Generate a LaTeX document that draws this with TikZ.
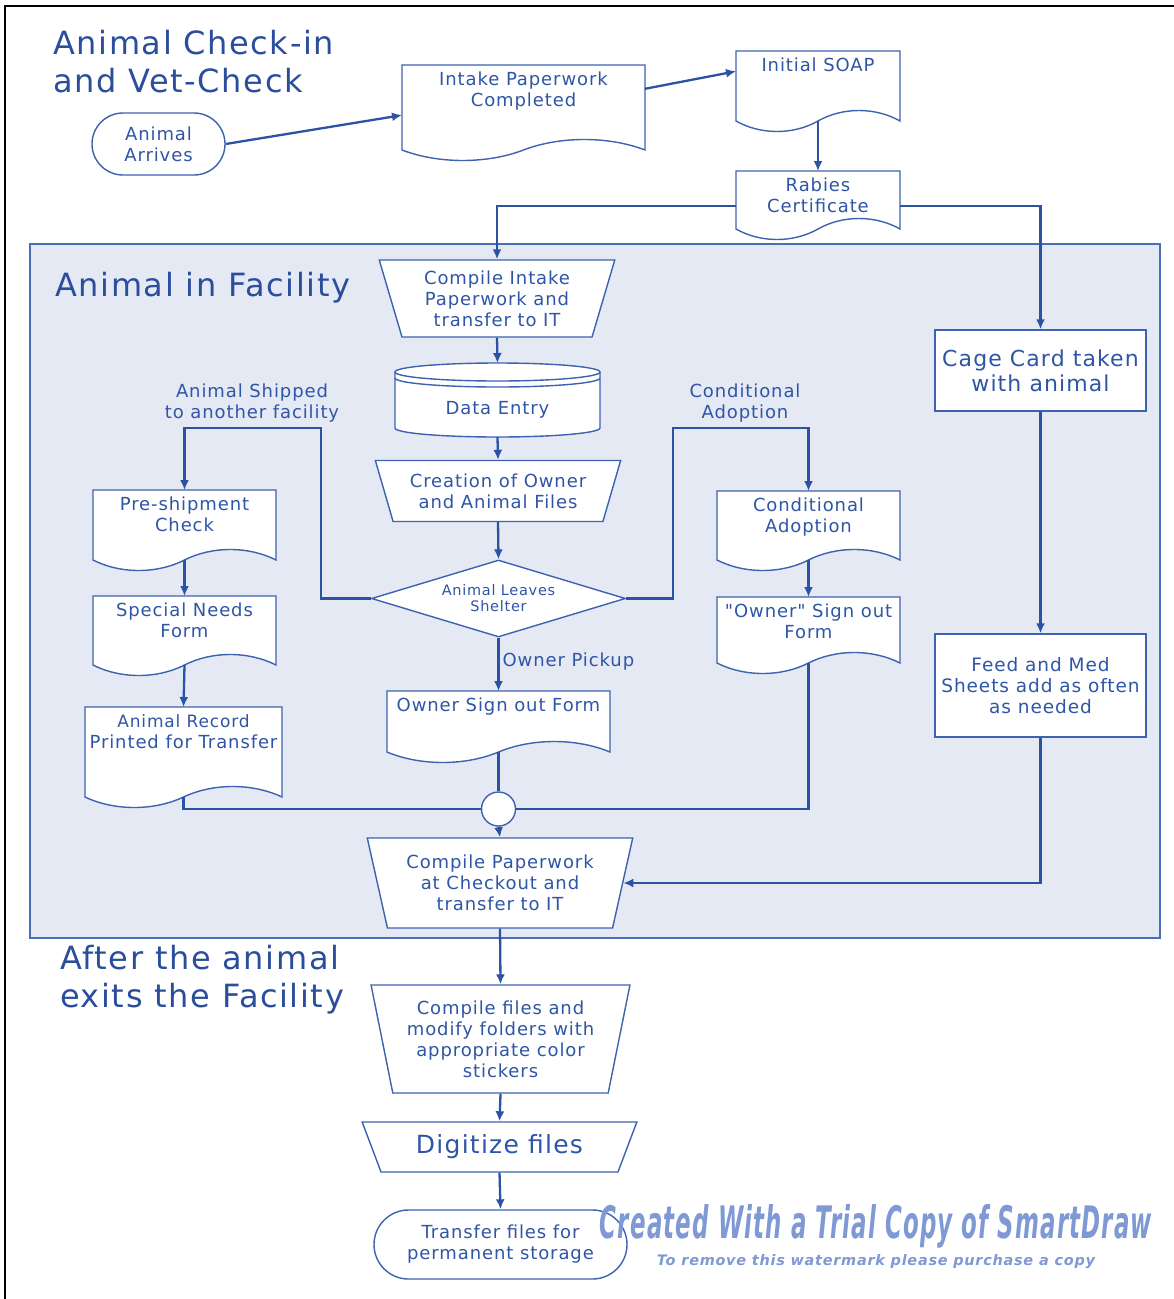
\documentclass[tikz,border=0pt]{standalone}
\usepackage{fontspec}
\setmainfont{DejaVu Sans}[Ligatures=TeXOff, LetterSpace=5]
\usetikzlibrary{arrows.meta, calc, positioning, shapes.geometric, shapes.misc}

\definecolor{lineblue}{HTML}{2B52A3}
\definecolor{boxblue}{HTML}{3D62B0}
\definecolor{txtblue}{HTML}{2F56A6}
\definecolor{titleblue}{HTML}{2A4E9C}
\definecolor{facfill}{HTML}{E4E9F4}
\definecolor{facdraw}{HTML}{4A6DB5}
\definecolor{wmblue}{HTML}{7E99D4}

\tikzset{
  flowline/.style={draw=lineblue, line width=2.3pt},
  flowarrow/.style={flowline, -{Latex[length=10pt,width=9pt]}},
  boxline/.style={draw=boxblue, line width=1.4pt, fill=white},
  boxtext/.style={text=txtblue, font=\fontsize{18}{21}\selectfont, align=center, inner sep=3pt},
  procbox/.style={boxline, boxtext, rectangle},
  funnel/.style={boxline, boxtext, trapezium, shape border rotate=180,
    trapezium stretches=true, inner sep=0pt},
  termbox/.style={boxline, boxtext, rounded rectangle},
  titletext/.style={text=titleblue, font=\fontsize{32}{38}\selectfont, align=left, inner sep=0pt},
  wmnode/.style={text=wmblue, inner sep=0pt}
}

% document symbol: name, left, top, right, bottom (image px), text
\newcommand{\docshape}[6]{%
  \draw[boxline] (#2,-#3) -- (#4,-#3) -- (#4,-#5)
    .. controls ({#4-0.15*(#4-#2)},{-#5+14}) and ({#4-0.35*(#4-#2)},{-#5+14}) .. ({(#2+#4)/2},-#5)
    .. controls ({#2+0.35*(#4-#2)},{-#5-14}) and ({#2+0.15*(#4-#2)},{-#5-14}) .. (#2,-#5) -- cycle;
  \node[boxtext, anchor=north] (#1) at ({(#2+#4)/2},{-#3-4}) {#6};
  \coordinate (#1-n) at ({(#2+#4)/2},-#3);
  \coordinate (#1-s) at ({(#2+#4)/2},-#5);
  \coordinate (#1-nw) at (#2,-#3);
  \coordinate (#1-sw) at (#2,-#5);
  \coordinate (#1-ne) at (#4,-#3);
  \coordinate (#1-se) at (#4,-#5);
}

\newcommand{\wmbig}{\resizebox{552pt}{34pt}{\bfseries\itshape Created With a Trial Copy of SmartDraw}}
\newcommand{\wmsmall}{\resizebox{438pt}{11pt}{\bfseries\itshape To remove this watermark please purchase a copy}}

\begin{document}
\begin{tikzpicture}[x=1pt, y=1pt]
  \useasboundingbox (0,0) rectangle (1174,-1299);

  % --- Frame ---
  \draw[line width=2.5pt] (5,-1299) -- (5,-6) -- (1174,-6);

  % --- Facility area ---
  \draw[fill=facfill, draw=facdraw, line width=1.4pt] (30,-244) rectangle (1160,-938);

  % --- Section titles ---
  \node[titletext, anchor=north west] (titlein) at (53,-30) {Animal Check-in\\and Vet-Check};
  \node[titletext, anchor=base west] (titlefac) at (55,-296) {Animal in Facility};
  \node[titletext, anchor=north west] (titleout) at (60,-945) {After the animal\\exits the Facility};

  % --- Check-in ---
  \node[termbox, minimum width=139pt, minimum height=62pt] (arrives) at (158.5,-144) {Animal\\Arrives};
  \docshape{intake}{402}{65}{645}{150}{Intake Paperwork\\Completed}
  \docshape{soap}{736}{51}{900}{121}{Initial SOAP}
  \docshape{rabies}{736}{171}{900}{229}{Rabies\\Certificate}

  % --- Intake in facility ---
  \node[funnel, minimum width=236pt, minimum height=77pt,
    trapezium left angle=72.7, trapezium right angle=72.7] (cintake) at (497,-298.5)
    {Compile Intake\\Paperwork and\\transfer to IT};

  % data entry cylinder
  \draw[boxline] (395,-372) -- (395,-428) arc[start angle=180, end angle=360, x radius=102.5, y radius=9]
    -- (600,-372) arc[start angle=0, end angle=180, x radius=102.5, y radius=9] -- cycle;
  \draw[draw=boxblue, line width=1.4pt] (395,-372) arc[start angle=180, end angle=360, x radius=102.5, y radius=9];
  \draw[draw=boxblue, line width=1.4pt] (395,-378) arc[start angle=180, end angle=360, x radius=102.5, y radius=9];
  \node[boxtext] (dentry) at (497.5,-410) {Data Entry};
  \coordinate (dentry-n) at (497.5,-363);
  \coordinate (dentry-s) at (497.5,-437);

  \node[funnel, minimum width=246pt, minimum height=61pt,
    trapezium left angle=66.9, trapezium right angle=66.9] (creation) at (498,-491)
    {Creation of Owner\\and Animal Files};

  \node[diamond, boxline, text=txtblue, font=\fontsize{14.5}{16}\selectfont, align=center,
    aspect=3.2, inner sep=0pt, minimum width=254pt, minimum height=77pt] (leaves) at (498.5,-598.5)
    {Animal Leaves\\Shelter};

  % --- Shipment branch ---
  \docshape{preship}{93}{490}{276}{560}{Pre-shipment\\Check}
  \docshape{special}{93}{596}{276}{665}{Special Needs\\Form}
  \docshape{record}{85}{707}{282}{797}{\fontsize{17}{20}\selectfont Animal Record\\Printed for Transfer}

  % --- Adoption branch ---
  \docshape{condadopt}{717}{491}{900}{560}{Conditional\\Adoption}
  \docshape{ownerso}{717}{597}{900}{663}{"Owner" Sign out\\Form}

  % --- Pickup branch ---
  \docshape{ownersign}{387}{691}{610}{752}{Owner Sign out Form}

  \node[circle, boxline, minimum size=34pt, inner sep=0pt] (join) at (498.5,-809) {};

  \node[funnel, minimum width=266pt, minimum height=90pt,
    trapezium left angle=73.3, trapezium right angle=73.3] (cpaper) at (500,-883)
    {Compile Paperwork\\at Checkout and\\transfer to IT};

  % --- Cage card column ---
  \node[procbox, minimum width=211pt, minimum height=81pt,
    font=\fontsize{22}{25}\selectfont] (cage) at (1040.5,-370.5) {Cage Card taken\\with animal};
  \node[procbox, minimum width=211pt, minimum height=103pt,
    font=\fontsize{18.5}{21}\selectfont] (feed) at (1040.5,-685.5) {Feed and Med\\Sheets add as often\\as needed};

  % --- After exit ---
  \node[funnel, minimum width=259pt, minimum height=108pt,
    trapezium left angle=76.2, trapezium right angle=76.2] (cfiles) at (500.5,-1039)
    {Compile files and\\modify folders with\\appropriate color\\stickers};
  \node[funnel, minimum width=275pt, minimum height=50pt,
    trapezium left angle=61.2, trapezium right angle=61.2,
    font=\fontsize{25}{28}\selectfont] (digit) at (499.5,-1147) {Digitize files};
  \node[termbox, minimum width=259pt, minimum height=69pt] (transfer) at (500.5,-1244.5)
    {Transfer files for\\permanent storage};

  % --- Bend points ---
  \coordinate (shipbend) at (321,-428);
  \coordinate (adoptbend) at (673,-428);

  % --- Connectors ---
  \draw[flowarrow] (arrives.east) -- ($(intake-nw)!0.59!(intake-sw)$);
  \draw[flowarrow] ($(intake-ne)!0.28!(intake-se)$) -- ($(soap-nw)!0.29!(soap-sw)$);
  \draw[flowarrow] (soap-s) -- (rabies-n);
  \draw[flowarrow] ($(rabies-nw)!0.6!(rabies-sw)$) -| (cintake.north);
  \draw[flowarrow] ($(rabies-ne)!0.6!(rabies-se)$) -| (cage.north);
  \draw[flowarrow] (cintake.south) -- (dentry-n);
  \draw[flowarrow] (dentry-s) -- (creation.north);
  \draw[flowarrow] (creation.south) -- (leaves.north);
  \draw[flowarrow] (leaves.west) -| (shipbend) -| (preship-n);
  \draw[flowarrow] (leaves.east) -| (adoptbend) -| (condadopt-n);
  \draw[flowarrow] (leaves.south) -- node[boxtext, right, pos=0.45] (pickup) {Owner Pickup} (ownersign-n);
  \draw[flowarrow] (preship-s) -- (special-n);
  \draw[flowarrow] (special-s) -- (record-n);
  \draw[flowarrow] (condadopt-s) -- (ownerso-n);
  \draw[flowline] (record-s) |- (join.west);
  \draw[flowline] (ownerso-s) |- (join.east);
  \draw[flowline] (ownersign-s) -- (join.north);
  \draw[flowarrow] (join.south) -- (cpaper.north);
  \draw[flowarrow] (cage.south) -- (feed.north);
  \draw[flowarrow] (feed.south) |- (cpaper.east);
  \draw[flowarrow] (cpaper.south) -- (cfiles.north);
  \draw[flowarrow] (cfiles.south) -- (digit.north);
  \draw[flowarrow] (digit.south) -- (transfer.north);

  % --- Branch labels ---
  \node[boxtext] (shiplabel) at (252,-403.5) {Animal Shipped\\to another facility};
  \node[boxtext] (adoptlabel) at (745,-403.5) {Conditional\\Adoption};

  % --- Watermark ---
  \node[wmnode] (wmark) at (876,-1226) {\wmbig};
  \node[wmnode] (wmnote) at (876,-1262) {\wmsmall};
\end{tikzpicture}
\end{document}
